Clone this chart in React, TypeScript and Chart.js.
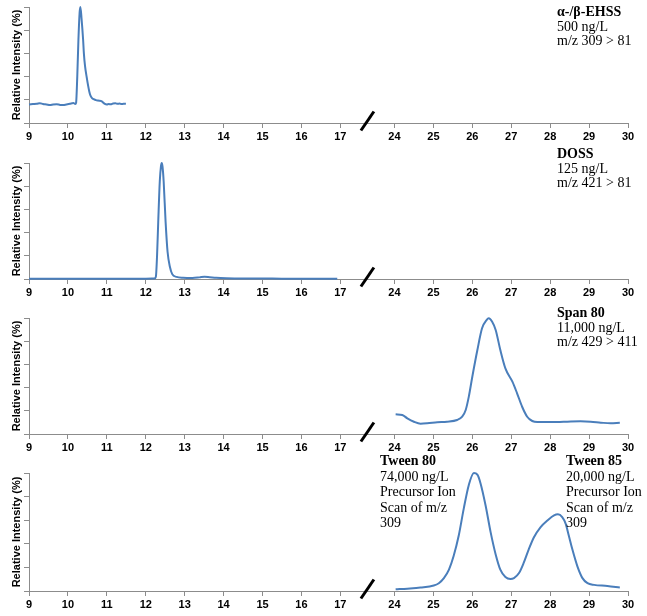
import React, { useEffect, useRef } from 'react';
import { Chart, registerables } from 'chart.js';

Chart.register(...registerables);
Chart.defaults.font.family = '"Liberation Sans", Arial, sans-serif';

// ---------- data ----------
const xTickLabels = [9, 10, 11, 12, 13, 14, 15, 16, 17, 24, 25, 26, 27, 28, 29, 30];
const yTickValues = [0, 20, 40, 60, 80, 100];

const ehssTime = [9.0, 9.1, 9.2, 9.28, 9.36, 9.45, 9.54, 9.62, 9.71, 9.8, 9.88, 9.96, 10.05, 10.14, 10.19, 10.21, 10.24, 10.27, 10.3, 10.32, 10.35, 10.39, 10.41, 10.44, 10.48, 10.52, 10.55, 10.58, 10.62, 10.66, 10.74, 10.8, 10.86, 10.9, 10.95, 11.0, 11.05, 11.1, 11.16, 11.22, 11.28, 11.33, 11.38, 11.43, 11.49];
const ehssIntensity = [16.0, 16.3, 16.6, 17.1, 16.4, 16.0, 15.5, 16.0, 16.2, 15.6, 15.5, 16.0, 16.6, 17.2, 16.4, 17.5, 40, 72, 95, 100, 90, 72, 60, 49, 40, 32, 27, 23.5, 21.5, 20.5, 19.5, 19.2, 18.8, 17.8, 16.4, 16.0, 16.3, 16.1, 16.8, 17.0, 16.5, 16.8, 16.3, 16.6, 16.5];

const dossTime = [9.0, 10.0, 11.0, 12.0, 12.22, 12.26, 12.29, 12.32, 12.36, 12.39, 12.41, 12.43, 12.46, 12.51, 12.56, 12.62, 12.68, 12.79, 12.96, 13.2, 13.38, 13.51, 13.64, 13.81, 14.07, 14.5, 15.0, 15.5, 16.0, 16.5, 16.92];
const dossIntensity = [0.3, 0.3, 0.3, 0.3, 0.4, 2, 20, 49, 84, 97, 100, 97, 84, 49, 23.5, 10.6, 4.2, 1.8, 1.0, 0.8, 1.4, 2.0, 1.6, 1.0, 0.6, 0.4, 0.4, 0.3, 0.3, 0.3, 0.3];

const spanTime = [24.03, 24.2, 24.33, 24.5, 24.67, 24.84, 25.1, 25.35, 25.61, 25.74, 25.83, 25.91, 26.0, 26.13, 26.25, 26.37, 26.42, 26.51, 26.6, 26.72, 26.85, 27.03, 27.15, 27.28, 27.41, 27.54, 27.67, 27.93, 28.18, 28.44, 28.78, 29.04, 29.3, 29.55, 29.79];
const spanIntensity = [17.0, 16.4, 13.5, 10.6, 8.9, 9.2, 10.1, 10.6, 12.1, 14.9, 20.7, 32.2, 49.4, 72.4, 91.1, 98.3, 99.7, 96.8, 89.7, 72.4, 56.6, 45.1, 35.1, 23.5, 14.9, 11.2, 10.3, 10.3, 10.3, 10.6, 10.9, 10.6, 9.8, 9.2, 9.8];

const tweenTime = [24.03, 24.33, 24.67, 25.01, 25.14, 25.27, 25.4, 25.52, 25.65, 25.78, 25.91, 26.04, 26.13, 26.21, 26.34, 26.47, 26.6, 26.72, 26.85, 26.98, 27.07, 27.2, 27.32, 27.45, 27.58, 27.75, 27.93, 28.1, 28.2, 28.31, 28.4, 28.48, 28.57, 28.7, 28.83, 28.96, 29.13, 29.47, 29.79];
const tweenIntensity = [1.4, 2.0, 2.9, 4.6, 6.6, 10.9, 18.1, 29.6, 46.8, 69.8, 89.9, 100, 98.6, 91.4, 72.7, 49.9, 31.0, 18.1, 11.8, 10.1, 10.9, 15.2, 23.8, 35.3, 45.4, 54.0, 59.8, 64.1, 65.0, 62.6, 56.9, 46.8, 35.3, 20.9, 10.9, 6.6, 5.2, 4.3, 2.9];

const ehssNote = ['α-/β-EHSS', '500 ng/L', 'm/z 309 > 81'];
const dossNote = ['DOSS', '125 ng/L', 'm/z 421 > 81'];
const spanNote = ['Span 80', '11,000 ng/L', 'm/z 429 > 411'];
const tween80Note = ['Tween 80', '74,000 ng/L', 'Precursor Ion', 'Scan of m/z', '309'];
const tween85Note = ['Tween 85', '20,000 ng/L', 'Precursor Ion', 'Scan of m/z', '309'];

const yTitle = 'Relative Intensity (%)';

// ---------- axis break mapping ----------
const BREAK_FROM = 17;
const BREAK_TO = 24;
const GAP = 1.39;
const toAxis = (t: number) => (t <= BREAK_FROM ? t : t - BREAK_TO + BREAK_FROM + GAP);

// ---------- styles ----------
const LINE_COLOR = '#4a7ebb';
const AXIS_COLOR = '#8c8c8c';
const NOTE_FONT = '"Liberation Serif", "Times New Roman", serif';
const W = 647;

const panels = [
  { time: ehssTime, values: ehssIntensity, top: 0, height: 155, areaTop: 7, areaBottom: 123 },
  { time: dossTime, values: dossIntensity, top: 155, height: 155, areaTop: 8, areaBottom: 124 },
  { time: spanTime, values: spanIntensity, top: 310, height: 155, areaTop: 8, areaBottom: 124 },
  { time: tweenTime, values: tweenIntensity, top: 465, height: 151, areaTop: 8, areaBottom: 126 },
];

const notes = [
  { lines: ehssNote, left: 557, top: 5, lh: 14.5 },
  { lines: dossNote, left: 557, top: 147, lh: 14.5 },
  { lines: spanNote, left: 557, top: 306, lh: 14.5 },
  { lines: tween80Note, left: 380, top: 453, lh: 15.5 },
  { lines: tween85Note, left: 566, top: 453, lh: 15.5 },
];

const breakPlugin = {
  id: 'axisBreak',
  afterDraw(chart: any) {
    const xs = chart.scales.x;
    const px = xs.getPixelForValue(BREAK_FROM + GAP / 2);
    const py = chart.chartArea.bottom;
    const ctx = chart.ctx;
    ctx.save();
    ctx.beginPath();
    ctx.moveTo(px - 6.5, py + 7.5);
    ctx.lineTo(px + 6.5, py - 11.5);
    ctx.lineWidth = 3;
    ctx.strokeStyle = '#000';
    ctx.stroke();
    ctx.restore();
  },
};

function Panel({ cfg }: { cfg: any }) {
  const ref = useRef<HTMLCanvasElement>(null);
  useEffect(() => {
    const canvas = ref.current!;
    const chart = new Chart(canvas, {
      type: 'line',
      data: {
        datasets: [
          {
            data: cfg.time.map((t: number, i: number) => ({ x: toAxis(t), y: cfg.values[i] })),
            borderColor: LINE_COLOR,
            borderWidth: 2,
            pointRadius: 0,
            cubicInterpolationMode: 'monotone',
            fill: false,
            clip: 6,
          } as any,
        ],
      },
      options: {
        responsive: false,
        animation: false,
        events: [],
        layout: { padding: { top: cfg.areaTop, right: W - 628, left: 0, bottom: 0 } },
        plugins: { legend: { display: false }, tooltip: { enabled: false } },
        scales: {
          x: {
            type: 'linear',
            min: 9,
            max: toAxis(30),
            afterBuildTicks: (s: any) => {
              s.ticks = xTickLabels.map((v) => ({ value: toAxis(v) }));
            },
            afterFit: (s: any) => {
              s.height = cfg.height - cfg.areaBottom;
            },
            ticks: {
              autoSkip: false,
              maxRotation: 0,
              padding: 2,
              color: '#000',
              font: { size: 11, weight: 'bold' },
              callback: (_v: any, i: number) => String(xTickLabels[i]),
            },
            grid: { drawOnChartArea: false, drawTicks: true, tickLength: 5, color: AXIS_COLOR },
            border: { color: AXIS_COLOR, width: 1 },
          },
          y: {
            type: 'linear',
            min: 0,
            max: 100,
            afterBuildTicks: (s: any) => {
              s.ticks = yTickValues.map((v) => ({ value: v }));
            },
            afterFit: (s: any) => {
              s.width = 29;
            },
            ticks: { display: false },
            grid: { drawOnChartArea: false, drawTicks: true, tickLength: 5, color: AXIS_COLOR },
            border: { color: AXIS_COLOR, width: 1 },
            title: {
              display: true,
              text: yTitle,
              color: '#000',
              font: { size: 11, weight: 'bold' },
              padding: { top: 10, bottom: 0 },
            },
          },
        },
      } as any,
      plugins: [breakPlugin],
    });
    return () => chart.destroy();
  }, []);
  return (
    <canvas
      ref={ref}
      width={W}
      height={cfg.height}
      style={{ position: 'absolute', left: 0, top: cfg.top, width: W, height: cfg.height }}
    />
  );
}

export default function App() {
  return (
    <div style={{ position: 'absolute', left: 0, top: 0, width: W, height: 616, background: '#fff', overflow: 'hidden' }}>
      {panels.map((p, i) => (
        <Panel key={i} cfg={p} />
      ))}
      {notes.map((n, i) => (
        <div
          key={'n' + i}
          style={{
            position: 'absolute',
            left: n.left,
            top: n.top,
            fontFamily: NOTE_FONT,
            fontSize: 14,
            lineHeight: n.lh + 'px',
            color: '#000',
            whiteSpace: 'nowrap',
            pointerEvents: 'none',
          }}
        >
          {n.lines.map((l, j) => (
            <div key={j} style={{ fontWeight: j === 0 ? 'bold' : 'normal' }}>
              {l}
            </div>
          ))}
        </div>
      ))}
    </div>
  );
}
